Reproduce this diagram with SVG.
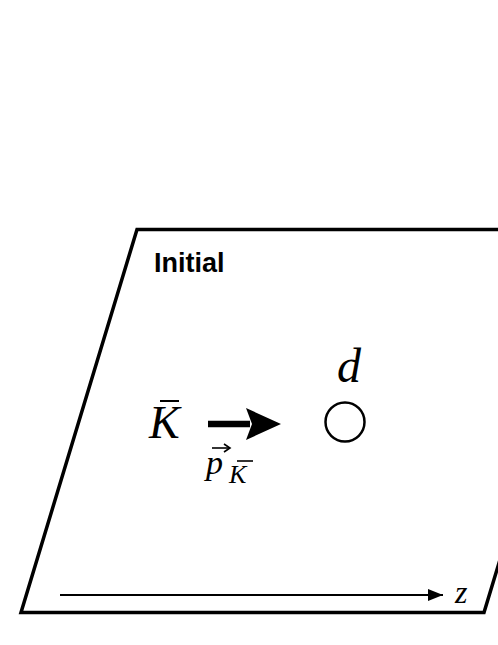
<svg xmlns="http://www.w3.org/2000/svg" width="498" height="645" viewBox="0 0 498 645">
<style>
.m{font-family:"Liberation Serif","DejaVu Serif",serif;font-style:italic;fill:#000}
.b{font-family:"Liberation Sans",Arial,sans-serif;font-weight:bold;fill:#000}
</style>
<defs>
<marker id="ah" markerWidth="15" markerHeight="12" refX="15" refY="6" orient="auto" markerUnits="userSpaceOnUse"><path d="M0,0 L15,6 L0,12 Z" fill="#000"/></marker>
</defs>
<rect width="498" height="645" fill="#fff"/>
<g id="plane">
<path d="M137,229.5 L600,229.5 L484,612.5 L21,612.5 Z" fill="none" stroke="#000" stroke-width="3.5" stroke-linejoin="miter"/>
<text class="b" x="154" y="272" font-size="27">Initial</text>
</g>
<g id="kbar">
<text class="m" x="149" y="438" font-size="46">K</text>
<line x1="160" y1="401" x2="179" y2="401" stroke="#000" stroke-width="2"/>
</g>
<g id="deuteron">
<circle cx="345" cy="422" r="19.5" fill="none" stroke="#000" stroke-width="2.5"/>
<text class="m" x="337" y="382" font-size="48">d</text>
</g>
<g id="momentum">
<text class="m" x="206" y="474" font-size="34">p</text>
<line x1="212" y1="448" x2="229" y2="448" stroke="#000" stroke-width="1.6"/>
<path d="M224,444 L230,448 L224,452" fill="none" stroke="#000" stroke-width="1.6"/>
<text class="m" x="229" y="483" font-size="26">K</text>
<line x1="237" y1="461" x2="253" y2="461" stroke="#000" stroke-width="1.6"/>
</g>
<g id="connectors">
<line x1="208" y1="424" x2="250" y2="424" stroke="#000" stroke-width="6.5"/>
<path d="M246,408 L281,424 L246,440 L252,424 Z" fill="#000"/>
<line x1="60" y1="595" x2="443" y2="595" stroke="#000" stroke-width="2" marker-end="url(#ah)"/>
</g>
<g id="zlabel">
<text class="m" x="455" y="603" font-size="32">z</text>
</g>
</svg>
